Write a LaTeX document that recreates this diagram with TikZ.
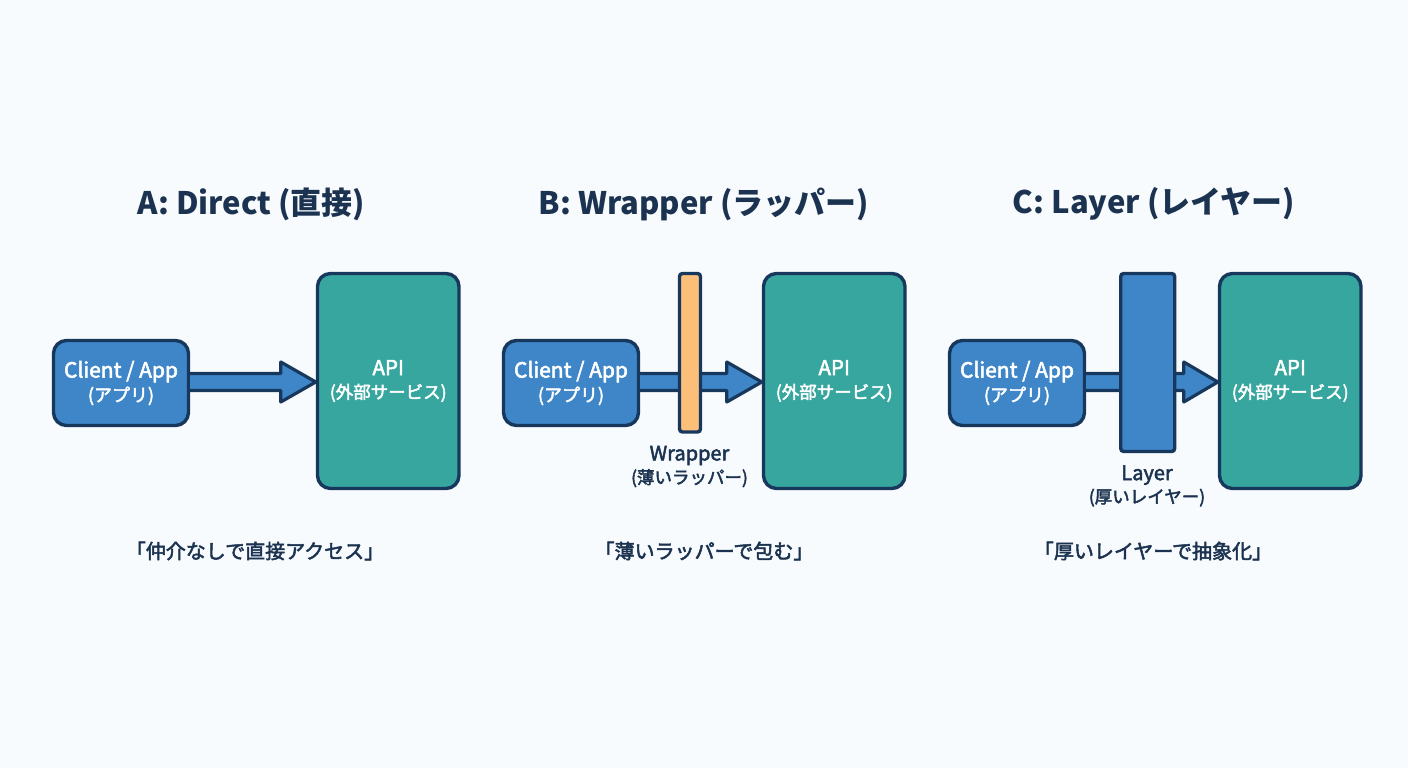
\documentclass[tikz,border=0pt]{standalone}
\usepackage{fontspec}
\setmainfont{Noto Sans CJK JP}
\newfontfamily\medf[FakeBold=2.5]{Noto Sans CJK JP}
\usetikzlibrary{calc}
\definecolor{bgc}{HTML}{F8FBFD}
\definecolor{ink}{HTML}{17385C}
\definecolor{txt}{HTML}{1B3350}
\definecolor{blu}{HTML}{3F86C9}
\definecolor{tea}{HTML}{36A69E}
\definecolor{org}{HTML}{FBBF7A}
\newcommand{\fs}[1]{\fontsize{#1}{#1}\selectfont}
\tikzset{
  x=1pt,y=-1pt,
  box/.style={draw=ink,line width=3.4pt,rounded corners=#1,inner sep=0pt,align=center,text=white,anchor=north west},
  box/.default=11pt,
  clientbox/.style={box=13pt,fill=blu,minimum width=135pt,minimum height=85pt,font=\medf\fs{21}},
  apibox/.style={box=13pt,fill=tea,minimum width=141.5pt,minimum height=215pt,font=\medf\fs{17.5}},
  wrapbar/.style={box=3pt,fill=org},
  layerbar/.style={box=3pt,fill=blu},
  fat/.style={draw=ink,fill=blu,line width=3.2pt,line join=round},
  headtitle/.style={font=\fs{31}\bfseries,text=txt,anchor=center,inner sep=0pt},
  quotetext/.style={font=\medf\fs{20},text=txt,anchor=center,inner sep=0pt},
  sublabel/.style={font=\medf\fs{17.5},text=txt,align=center,anchor=center,inner sep=0pt},
}
\newcommand{\fatarrow}[3]{% from, to, head length
  \draw[fat] (#1.east|-0,373.5) -- ($(#2.west|-0,373.5)+(-#3,0)$) -- ($(#2.west|-0,362)+(-#3,0)$)
    -- (#2.west|-0,382) -- ($(#2.west|-0,402)+(-#3,0)$) -- ($(#2.west|-0,390.5)+(-#3,0)$) -- (#1.east|-0,390.5);
}
\newcommand{\apitext}{{\fs{20.5}API}\\[6pt](外部サービス)}
\newcommand{\clienttext}{Client / App\\[3pt]{\fs{18}(アプリ)}}
\begin{document}
\begin{tikzpicture}
\useasboundingbox (0,0) rectangle (1408,768);
\fill[bgc] (0,0) rectangle (1408,768);
% A
\node[headtitle] (ta) at (251.5,204) {A: Direct (直接)};
\node[apibox] (apia) at (315.8,271.8) {\apitext};
\node[clientbox] (cla) at (51.8,338.8) {\clienttext};
\fatarrow{cla}{apia}{35}
\node[quotetext] (qa) at (255,551) {「仲介なしで直接アクセス」};
% B
\node[headtitle] (tb) at (704,204) {B: Wrapper (ラッパー)};
\node[apibox] (apib) at (761.8,271.8) {\apitext};
\node[clientbox] (clb) at (501.8,338.8) {\clienttext};
\fatarrow{clb}{apib}{35}
\node[wrapbar,minimum width=21pt,minimum height=158.5pt] (wr) at (677.8,271.8) {};
\node[sublabel] (wl) at (689.5,466.5) {{\fs{20}Wrapper}\\[3pt]{\fs{17.5}(薄いラッパー)}};
\node[quotetext] (qb) at (704,551) {「薄いラッパーで包む」};
% C
\node[headtitle] (tc) at (1154,204) {C: Layer (レイヤー)};
\node[apibox] (apic) at (1217.8,271.8) {\apitext};
\node[clientbox] (clc) at (947.8,338.8) {\clienttext};
\fatarrow{clc}{apic}{34}
\node[layerbar,minimum width=54pt,minimum height=178pt] (ly) at (1119,271.8) {};
\node[sublabel] (ll) at (1147,486) {{\fs{20}Layer}\\[3pt]{\fs{17.5}(厚いレイヤー)}};
\node[quotetext] (qc) at (1153,551) {「厚いレイヤーで抽象化」};
\end{tikzpicture}
\end{document}
